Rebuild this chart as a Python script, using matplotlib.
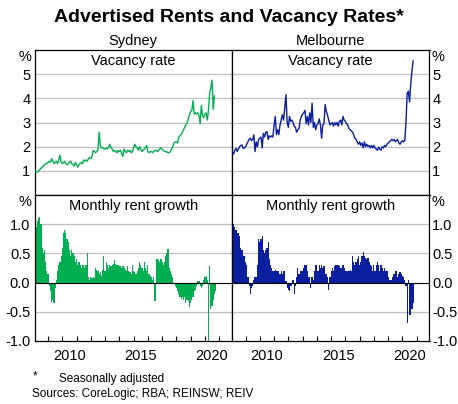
import matplotlib
matplotlib.use("Agg")
import matplotlib.pyplot as plt
import numpy as np

plt.rcParams['font.family'] = ['Liberation Sans', 'DejaVu Sans']

# ---------------- data (monthly, starting Jan 2008) ----------------
START_YEAR = 2008

syd_vacancy = [
    1.08, 1.0, 0.97, 0.95, 1.0, 1.05, 1.1, 1.15, 1.2, 1.25, 1.3, 1.3,          # 2008
    1.35, 1.4, 1.35, 1.5, 1.4, 1.3, 1.35, 1.4, 1.3, 1.45, 1.65, 1.35,          # 2009
    1.3, 1.35, 1.4, 1.3, 1.25, 1.3, 1.35, 1.4, 1.3, 1.25, 1.2, 1.35,           # 2010
    1.25, 1.15, 1.25, 1.3, 1.35, 1.3, 1.45, 1.4, 1.45, 1.4, 1.5, 1.55,         # 2011
    1.5, 1.6, 1.85, 1.8, 1.75, 1.8, 1.85, 2.6, 2.05, 1.95, 1.95, 1.9,          # 2012
    1.9, 1.95, 1.9, 2.0, 2.1, 1.95, 1.9, 1.8, 1.85, 1.8, 1.75, 1.85,           # 2013
    1.8, 1.85, 1.7, 1.6, 1.9, 1.8, 1.75, 1.85, 1.8, 1.85, 1.75, 1.8,           # 2014
    1.95, 2.1, 2.0, 1.95, 1.85, 2.0, 1.9, 1.8, 1.85, 1.9, 1.95, 2.05,          # 2015
    1.8, 1.75, 1.8, 1.8, 1.75, 1.8, 1.85, 1.85, 1.8, 1.85, 1.9, 1.95,          # 2016
    1.9, 1.85, 1.8, 1.8, 1.78, 1.75, 1.75, 1.8, 1.9, 2.0, 2.15, 2.2,           # 2017
    2.2, 2.15, 2.4, 2.45, 2.5, 2.6, 2.7, 2.8, 2.9, 3.0, 3.15, 3.3,             # 2018
    3.45, 3.5, 3.9, 3.35, 3.4, 3.35, 3.4, 3.3, 2.95, 3.7, 3.3, 3.2,            # 2019
    3.35, 3.4, 3.1, 3.5, 4.2, 4.45, 4.75, 3.55, 4.1,                           # 2020
]

mel_vacancy = [
    1.8, 1.79, 1.7, 1.85, 1.93, 1.8, 1.9, 2.0, 2.05, 2.07, 1.93, 1.95,         # 2008
    2.0, 2.1, 2.2, 2.3, 2.35, 2.25, 2.3, 2.49, 1.8, 2.2, 2.0, 2.3,             # 2009
    2.35, 2.4, 1.95, 2.55, 2.4, 2.6, 2.62, 2.3, 2.45, 2.4, 2.45, 2.4,          # 2010
    2.9, 3.25, 2.5, 2.7, 2.5, 2.9, 3.1, 3.32, 3.1, 3.6, 4.15, 3.0,             # 2011
    2.8, 3.25, 3.05, 3.1, 3.0, 2.85, 2.8, 2.6, 2.7, 2.75, 3.1, 3.25,           # 2012
    3.35, 3.4, 3.5, 2.95, 3.25, 2.9, 3.4, 3.0, 3.8, 2.8, 3.0, 2.7,             # 2013
    2.9, 2.95, 3.15, 2.9, 2.35, 2.9, 2.95, 3.74, 3.45, 3.3, 3.1, 2.9,          # 2014
    2.95, 3.0, 2.85, 3.0, 2.9, 3.0, 2.85, 3.05, 3.1, 2.9, 3.25, 3.1,           # 2015
    3.05, 2.95, 2.9, 2.75, 2.7, 2.65, 2.6, 2.5, 2.35, 2.3, 2.2, 2.1,           # 2016
    2.2, 2.05, 2.15, 1.95, 2.2, 2.0, 2.1, 2.0, 2.05, 1.95, 2.05, 1.95,         # 2017
    2.05, 1.95, 1.9, 1.85, 1.98, 1.9, 1.85, 2.0, 1.95, 2.05, 2.0, 2.1,         # 2018
    2.15, 2.2, 2.25, 2.3, 2.25, 2.3, 2.2, 2.25, 2.3, 2.15, 2.1, 2.2,           # 2019
    2.25, 2.2, 2.25, 3.0, 4.2, 4.3, 3.85, 4.6, 5.1, 5.55,                      # 2020
]

syd_rent_growth = [
    0.7, 0.75, 0.95, 1.05, 1.1, 1.13, 1.0, 0.6, 0.5, 0.55, 0.35, 0.2,          # 2008
    0.15, -0.05, -0.15, -0.33, -0.3, -0.35, -0.1, 0.05, 0.2, 0.3, 0.35, 0.45,  # 2009
    0.6, 0.85, 0.9, 0.85, 0.75, 0.7, 0.55, 0.45, 0.55, 0.5, 0.45, 0.35,        # 2010
    0.4, 0.3, 0.35, 0.3, 0.25, 0.3, 0.3, 0.25, 0.3, 0.5, 0.1, 0.05,            # 2011
    0.1, 0.08, 0.1, 0.08, 0.25, 0.22, 0.2, 0.15, 0.18, 0.12, 0.22, 0.45,       # 2012
    0.2, 0.35, 0.3, 0.25, 0.3, 0.28, 0.3, 0.32, 0.38, 0.32, 0.3, 0.3,          # 2013
    0.28, 0.28, 0.25, 0.28, 0.25, 0.22, 0.2, 0.28, 0.2, 0.18, 0.15, 0.3,       # 2014
    0.2, 0.18, 0.15, 0.2, 0.25, 0.35, 0.3, 0.25, 0.2, 0.35, 0.25, 0.2,         # 2015
    0.3, 0.15, 0.12, 0.1, 0.05, 0.1, -0.32, 0.4, 0.4, 0.38, 0.35, 0.4,         # 2016
    0.35, 0.3, 0.35, 0.45, 0.5, 0.57, 0.25, 0.2, 0.15, 0.1, 0.0, -0.05,        # 2017
    -0.1, -0.15, -0.2, -0.25, -0.28, -0.25, -0.3, -0.25, -0.35, -0.3, -0.32, -0.42,  # 2018
    -0.35, -0.3, -0.25, -0.15, -0.12, -0.05, 0.02, 0.03, -0.05, -0.1, -0.05, 0.05,   # 2019
    0.1, 0.12, 0.05, -1.0, 0.28, -0.45, -0.4, -0.3, -0.2, -0.15,               # 2020
]

mel_rent_growth = [
    1.0, 1.0, 1.0, 0.95, 0.9, 0.85, 0.85, 0.8, 0.6, 0.55, 0.45, 0.45,          # 2008
    0.35, 0.3, 0.1, -0.05, -0.2, -0.1, -0.05, 0.05, 0.1, 0.1, 0.3, 0.75,       # 2009
    0.7, 0.75, 0.8, 0.55, 0.5, 0.55, 0.6, 0.7, 0.4, 0.3, 0.25, 0.2,            # 2010
    0.2, 0.22, 0.2, 0.2, 0.2, 0.15, 0.2, 0.15, 0.2, 0.2, 0.02, -0.1,           # 2011
    -0.12, -0.15, -0.05, -0.05, 0.05, -0.2, -0.05, 0.1, 0.25, 0.15, 0.2, 0.2,  # 2012
    0.2, 0.25, 0.3, 0.3, 0.2, 0.1, 0.1, -0.1, 0.1, 0.05, 0.2, 0.3,             # 2013
    0.3, 0.2, 0.3, 0.25, 0.3, 0.25, 0.28, 0.15, 0.15, 0.1, -0.12, 0.1,         # 2014
    0.2, 0.25, 0.2, 0.28, 0.3, 0.3, 0.3, 0.28, 0.25, 0.25, 0.3, 0.25,          # 2015
    0.2, 0.2, 0.2, 0.2, 0.22, 0.2, 0.45, 0.35, 0.3, 0.35, 0.4, 0.45,           # 2016
    0.3, 0.35, 0.45, 0.52, 0.45, 0.42, 0.4, 0.42, 0.35, 0.3, 0.28, 0.2,        # 2017
    0.3, 0.2, 0.3, 0.35, 0.3, 0.2, 0.3, 0.25, 0.2, 0.25, 0.2, 0.2,             # 2018
    0.1, 0.05, 0.05, 0.05, 0.1, 0.15, 0.2, 0.2, 0.1, 0.15, 0.18, 0.15,         # 2019
    0.12, 0.1, 0.05, -0.05, -0.7, 0.05, -0.55, -0.55, -0.45, -0.35,            # 2020
]

cities = ["Sydney", "Melbourne"]
top_title = "Vacancy rate"
bottom_title = "Monthly rent growth"
top_ticks = [1, 2, 3, 4, 5]
bottom_ticks = [-1.0, -0.5, 0.0, 0.5, 1.0]
year_labels = [2010, 2015, 2020]
year_ticks = list(range(2009, 2022))

GREEN = "#00B050"
BLUE = "#0A1EA0"
GRID = "#BFBFBF"


def months(vals):
    return START_YEAR + np.arange(len(vals)) / 12.0


W, H = 458, 404
fig = plt.figure(figsize=(W / 100, H / 100), dpi=100)


def fx(x):
    return x / W


def fy(y):
    return 1 - y / H


L, M, R = 34.5, 232, 429.5
T, MID, B = 50, 195, 341

axes = {}
axes["tl"] = fig.add_axes([fx(L), fy(MID), fx(M - L), (MID - T) / H])
axes["tr"] = fig.add_axes([fx(M), fy(MID), fx(R - M), (MID - T) / H])
axes["bl"] = fig.add_axes([fx(L), fy(B), fx(M - L), (B - MID) / H])
axes["br"] = fig.add_axes([fx(M), fy(B), fx(R - M), (B - MID) / H])

FS = 10.5
TFS = 10.5
XLIM = (2008.05, 2021.9)

for key, ax in axes.items():
    ax.set_xlim(*XLIM)
    for s in ax.spines.values():
        s.set_linewidth(0.9)
        s.set_color("black")
    ax.set_facecolor("white")

# top panels
for key, vac, col in (("tl", syd_vacancy, GREEN), ("tr", mel_vacancy, BLUE)):
    ax = axes[key]
    ax.set_ylim(0, 6)
    for t in top_ticks:
        ax.axhline(t, color=GRID, lw=0.9, zorder=1)
    ax.plot(months(vac), vac, color=col, lw=1.0, zorder=3)
    ax.set_yticks(top_ticks)
    ax.set_yticklabels([str(t) for t in top_ticks], fontsize=TFS)
    ax.set_xticks([])
    ax.text(0.5, 0.975, top_title, transform=ax.transAxes, ha="center", va="top", fontsize=FS)

# bottom panels
for key, rg, col in (("bl", syd_rent_growth, GREEN), ("br", mel_rent_growth, BLUE)):
    ax = axes[key]
    ax.set_ylim(-1.0, 1.5)
    for t in bottom_ticks:
        if t not in (0.0, -1.0):
            ax.axhline(t, color=GRID, lw=0.9, zorder=1)
    ax.bar(months(rg), rg, width=1 / 12, color=col, linewidth=0, zorder=2)
    ax.axhline(0, color="black", lw=0.8, zorder=3)
    ax.set_yticks(bottom_ticks)
    ax.set_yticklabels([f"{t:.1f}" for t in bottom_ticks], fontsize=TFS)
    ax.set_xticks(year_ticks)
    ax.set_xticklabels([])
    ax.set_xticks([y + 0.5 for y in year_labels], minor=True)
    ax.set_xticklabels([str(y) for y in year_labels], minor=True, fontsize=TFS)
    ax.tick_params(axis="x", which="major", direction="in", length=3.5, width=0.8, color="black")
    ax.tick_params(axis="x", which="minor", length=0, pad=6)
    ax.text(0.5, 0.975, bottom_title, transform=ax.transAxes, ha="center", va="top", fontsize=FS)

for key in ("tl", "bl"):
    axes[key].tick_params(axis="y", which="both", length=0, left=False, right=False,
                          labelleft=True, labelright=False, pad=3)
for key in ("tr", "br"):
    axes[key].tick_params(axis="y", which="both", length=0, left=False, right=False,
                          labelleft=False, labelright=True, pad=2)

# % unit labels
for y in (57, 202.5):
    fig.text(fx(31.5), fy(y), "%", ha="right", va="center", fontsize=TFS)
    fig.text(fx(431.5), fy(y), "%", ha="left", va="center", fontsize=TFS)

# titles
fig.text(fx(229), fy(17), "Advertised Rents and Vacancy Rates*", ha="center", va="center",
         fontsize=14, fontweight="bold")
fig.text(fx((L + M) / 2), fy(41), cities[0], ha="center", va="center", fontsize=FS)
fig.text(fx((M + R) / 2), fy(41), cities[1], ha="center", va="center", fontsize=FS)

# footnotes
fig.text(fx(33), fy(376), "*", ha="left", va="center", fontsize=8.5)
fig.text(fx(59), fy(379), "Seasonally adjusted", ha="left", va="center", fontsize=8.5)
fig.text(fx(32), fy(394), "Sources: CoreLogic; RBA; REINSW; REIV", ha="left", va="center", fontsize=8.5)

fig.savefig("out.png", dpi=100, facecolor="white")
